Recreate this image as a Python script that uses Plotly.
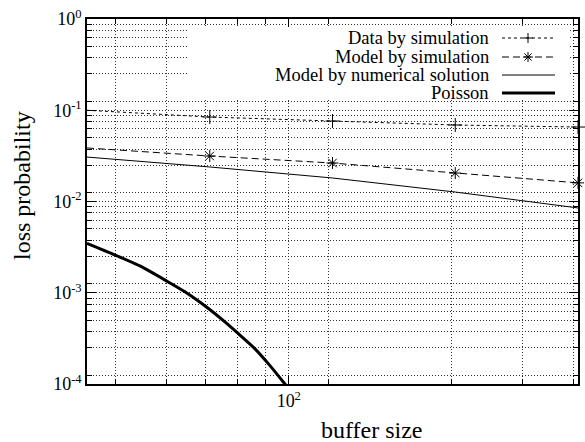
import plotly.graph_objects as go

# ---------------- data ----------------
buffer_sizes = [32, 64, 128, 256, 512]
data_sim = [0.100, 0.0843, 0.0762, 0.0689, 0.0655]
model_sim = [0.0386, 0.0315, 0.0264, 0.0205, 0.0160]
model_num = [0.0307, 0.0239, 0.0181, 0.0127, 0.0085]
poisson_x = [32, 37.5, 43.5, 50.1, 55.5, 63.4, 69.6, 75.0, 82.4, 89.6, 97.5, 104]
poisson_y = [0.00348, 0.00259, 0.00193, 0.00135, 0.00103, 0.000676, 0.000482,
             0.000360, 0.000246, 0.000162, 0.000102, 0.000071]

series_names = ["Data by simulation", "Model by simulation",
                "Model by numerical solution", "Poisson"]

x_tick_vals = [100]
x_tick_text = ["10<sup>2</sup>"]
x_minor_vals = [37.5, 50, 62.5, 75, 87.5, 125, 250, 375, 500]
y_tick_vals = [1e-4, 1e-3, 1e-2, 1e-1, 1]
y_tick_text = ["10<sup>-4</sup>", "10<sup>-3</sup>", "10<sup>-2</sup>", "10<sup>-1</sup>", "10<sup>0</sup>"]
y_minor_vals = [k * 1.25 * 10.0 ** n for n in range(-4, 0) for k in range(1, 8)]

FONT = "Liberation Serif"
BLACK = "#000000"

L, R, T, B = 87, 578, 19, 384
W, H = R - L, B - T


def px(xp):
    return (xp - L) / W


def py(yp):
    return 1 - (yp - T) / H


fig = go.Figure()

fig.add_trace(go.Scatter(x=buffer_sizes, y=data_sim, mode="lines+markers",
                         line=dict(color=BLACK, width=1, dash="3px,3px"),
                         marker=dict(symbol="cross-thin-open", size=10,
                                     line=dict(color=BLACK, width=1)),
                         cliponaxis=False, showlegend=False))
fig.add_trace(go.Scatter(x=buffer_sizes, y=model_sim, mode="lines+markers",
                         line=dict(color=BLACK, width=1, dash="7px,4px"),
                         marker=dict(symbol="asterisk-open", size=10,
                                     line=dict(color=BLACK, width=1)),
                         cliponaxis=False, showlegend=False))
fig.add_trace(go.Scatter(x=buffer_sizes, y=model_num, mode="lines",
                         line=dict(color=BLACK, width=1), showlegend=False))
fig.add_trace(go.Scatter(x=poisson_x, y=poisson_y, mode="lines",
                         line=dict(color=BLACK, width=3, shape="spline", smoothing=0.6),
                         showlegend=False))

# ---------- gnuplot-style key: opaque box, right-aligned text, sample on right ----------
fig.add_shape(type="rect", xref="paper", yref="paper",
              x0=px(188), x1=px(568), y0=py(99), y1=py(27),
              fillcolor="#ffffff", opacity=1, line=dict(width=0), layer="above")

key_text_x = px(491)
s0, s1, sm = px(502), px(555), px(528)
rows = [py(38), py(57), py(75), py(93)]
dashes = ["3px,3px", "7px,4px", "solid", "solid"]
widths = [1, 1, 1, 3]
for name, ry, dsh, wd in zip(series_names, rows, dashes, widths):
    fig.add_annotation(xref="paper", yref="paper", x=key_text_x, y=ry,
                       text=name, showarrow=False, xanchor="right", yanchor="middle",
                       font=dict(family=FONT, size=18.5, color=BLACK))
    fig.add_shape(type="line", xref="paper", yref="paper", x0=s0, x1=s1, y0=ry, y1=ry,
                  line=dict(color=BLACK, width=wd, dash=dsh), layer="above")

plus_arms = [(-5, 0, 5, 0), (0, -5, 0, 5)]
star_arms = [(-5, 0, 5, 0), (0, -5, 0, 5), (-3.6, -3.6, 3.6, 3.6), (-3.6, 3.6, 3.6, -3.6)]
for arms, ry in [(plus_arms, rows[0]), (star_arms, rows[1])]:
    for (a, b, c, d) in arms:
        fig.add_shape(type="line", xref="paper", yref="paper",
                      xsizemode="pixel", ysizemode="pixel", xanchor=sm, yanchor=ry,
                      x0=a, y0=b, x1=c, y1=d, line=dict(color=BLACK, width=1), layer="above")

fig.add_annotation(xref="paper", yref="paper", x=px(372), y=py(430),
                   text="buffer size", showarrow=False, xanchor="center", yanchor="middle",
                   font=dict(family=FONT, size=24, color=BLACK))
fig.add_annotation(xref="paper", yref="paper", x=px(22), y=py(186),
                   text="loss probability", showarrow=False, xanchor="center", yanchor="middle",
                   textangle=-90, font=dict(family=FONT, size=24, color=BLACK))

grid_common = dict(showgrid=True, gridcolor="#333333", gridwidth=1, griddash="1px,2px")
axis_common = dict(ticks="inside", ticklen=9, tickwidth=1, tickcolor=BLACK,
                   showline=True, linecolor=BLACK, linewidth=1.5, mirror="ticks",
                   zeroline=False, automargin=False,
                   tickfont=dict(family=FONT, size=18, color=BLACK))

fig.update_layout(
    template="none",
    width=585, height=442,
    margin=dict(l=L, r=585 - R, t=T, b=442 - B, pad=0),
    paper_bgcolor="white", plot_bgcolor="white",
    font=dict(family=FONT, size=18, color=BLACK),
    showlegend=False,
    hovermode=False,
    xaxis=dict(type="log", range=[1.50515, 2.70927],
               tickmode="array", tickvals=x_tick_vals, ticktext=x_tick_text,
               minor=dict(tickmode="array", tickvals=x_minor_vals, ticks="inside",
                          ticklen=5, tickwidth=1, tickcolor=BLACK, **grid_common),
               **axis_common, **grid_common),
    yaxis=dict(type="log", range=[-4, 0],
               tickmode="array", tickvals=y_tick_vals, ticktext=y_tick_text,
               minor=dict(tickmode="array", tickvals=y_minor_vals, ticks="inside",
                          ticklen=5, tickwidth=1, tickcolor=BLACK, **grid_common),
               **axis_common, **grid_common),
)

fig.write_html("out.html", config={"displayModeBar": False},
               post_script="document.body.style.margin='0';document.body.style.padding='0';")
